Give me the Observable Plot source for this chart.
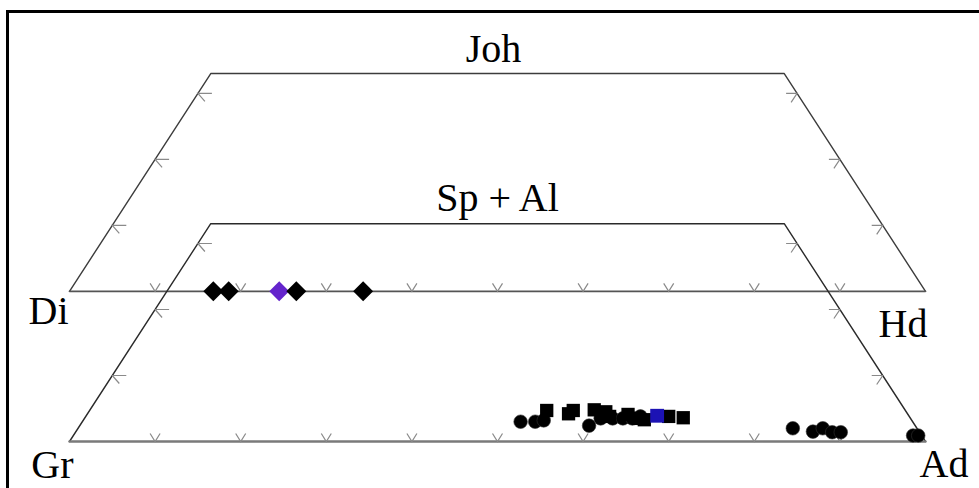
<!DOCTYPE html>
<html><head><meta charset="utf-8">
<script src="https://cdn.jsdelivr.net/npm/d3@7"></script>
<script src="https://cdn.jsdelivr.net/npm/@observablehq/plot@0.6"></script>
<style>
body{margin:0;background:#fff;}
#wrap{position:relative;width:979px;height:488px;overflow:hidden;background:#fff;}
#frame{position:absolute;left:6px;top:10px;width:2000px;height:2000px;border-left:3px solid #000;border-top:3px solid #000;pointer-events:none;}
#wrap svg{position:absolute;left:0;top:0;}
</style></head><body><div id="wrap"><div id="frame"></div></div>
<script>
// End-members of the two truncated ternary diagrams
const upperBase = ["Di", "Hd"];
const upperApex = "Joh";
const lowerBase = ["Gr", "Ad"];
const lowerApex = "Sp + Al";

// Tick fractions (%)
const baseTicks = [10, 20, 30, 40, 50, 60, 70, 80, 90];
const sideTicks = [10, 20, 30];
const apexMax = 33; // apex component shown up to this %

// Pyroxene (Di–Hd–Joh): Hd %, Joh %
const pyxHd   = [16.8, 18.6, 26.5, 34.3];
const pyxJoh  = [0, 0, 0, 0];
const pyxHlHd  = [24.5];
const pyxHlJoh = [0];

// Garnet (Gr–Ad–Sp+Al), circles: Ad %, Sp+Al %
const grtCircAd   = [51.2, 52.9, 53.8, 59.5, 60.3, 61.7, 62.9, 64.0, 64.8, 83.5, 86.1, 87.0, 88.4, 89.4, 98.1, 98.7];
const grtCircSpAl = [3.0, 3.0, 3.2, 2.4, 3.5, 3.5, 3.5, 3.5, 3.8, 2.0, 1.5, 2.0, 1.4, 1.4, 0.9, 0.9];
// Garnet squares: Ad %, Sp+Al %
const grtSqAd   = [53.4, 56.2, 56.5, 58.9, 60.4, 61.2, 63.2, 64.7, 65.5, 68.1, 69.9];
const grtSqSpAl = [4.7, 4.2, 4.7, 4.8, 4.5, 3.8, 4.1, 3.5, 3.3, 3.8, 3.6];
const grtSqHlAd   = [66.7];
const grtSqHlSpAl = [3.9];

// ---- layout helpers ----
const LEVEL_OFFSET = 0.2275; // upper diagram raised above the lower one (in apex units)
const proj = (b, c, level) => ({x: (b + c / 2) / 100, y: c / 100 + level * LEVEL_OFFSET});
const pts = (bs, cs, level) => bs.map((b, i) => proj(b, cs[i], level));

function outline(level) {
  return [proj(0, 0, level), proj(0, apexMax, level), proj(100 - apexMax, apexMax, level), proj(100, 0, level)];
}
function baseLine(level) { return [proj(0, 0, level), proj(100, 0, level)]; }
const topCenter = level => proj(50 - apexMax / 2, apexMax, level);
const baseTickPts = level => baseTicks.map(t => proj(t, 0, level));
const leftTickPts = level => sideTicks.map(t => proj(0, t, level));
const rightTickPts = level => sideTicks.map(t => proj(100 - t, t, level));

const symV = {draw(ctx) { ctx.moveTo(-5, -8); ctx.lineTo(0, 0); ctx.lineTo(5, -8); }};
const symL = {draw(ctx) { ctx.moveTo(14, 0); ctx.lineTo(0, 0); ctx.lineTo(7, 8); }};
const symR = {draw(ctx) { ctx.moveTo(-11, 0); ctx.lineTo(0, 0); ctx.lineTo(-6, 9); }};

const labelFont = {fontSize: 40, fill: "#000", lineAnchor: "middle"};
function label(pos, text, textAnchor, dx, dy) {
  return Plot.text([{...pos, text}], {x: "x", y: "y", text: "text", textAnchor, dx, dy, ...labelFont});
}

const tickStyle = {x: "x", y: "y", r: 5, fill: "none", stroke: "#8a8a8a", strokeWidth: 1.2};

const chart = Plot.plot({
  width: 979,
  height: 488,
  margin: 0,
  x: {domain: [0, 1], range: [69, 925], axis: null},
  y: {domain: [0, 1], range: [441, 441 - 660], axis: null},
  style: {background: "transparent", fontFamily: "'Liberation Serif', 'Times New Roman', serif"},
  marks: [
    // outlines
    Plot.line(outline(1), {x: "x", y: "y", stroke: "#3c3c3c", strokeWidth: 1.4}),
    Plot.line(baseLine(1), {x: "x", y: "y", stroke: "#555", strokeWidth: 1.6}),
    Plot.line(outline(0), {x: "x", y: "y", stroke: "#2a2a2a", strokeWidth: 1.4}),
    Plot.line(baseLine(0), {x: "x", y: "y", stroke: "#7a7a7a", strokeWidth: 2.4}),
    // ticks
    Plot.dot(baseTickPts(1), {...tickStyle, symbol: symV}),
    Plot.dot(leftTickPts(1), {...tickStyle, symbol: symL}),
    Plot.dot(rightTickPts(1), {...tickStyle, symbol: symR}),
    Plot.dot(baseTickPts(0), {...tickStyle, symbol: symV}),
    Plot.dot(leftTickPts(0), {...tickStyle, symbol: symL}),
    Plot.dot(rightTickPts(0), {...tickStyle, symbol: symR}),
    // data
    Plot.dot(pts(grtCircAd, grtCircSpAl, 0), {x: "x", y: "y", r: 6.8, fill: "#000", stroke: "#333", strokeWidth: 0.6}),
    Plot.dot(pts(grtSqAd, grtSqSpAl, 0), {x: "x", y: "y", symbol: "square", r: 7.5, fill: "#000"}),
    Plot.dot(pts(grtSqHlAd, grtSqHlSpAl, 0), {x: "x", y: "y", symbol: "square", r: 7.8, fill: "#1c12b4"}),
    Plot.dot(pts(pyxHlHd, pyxHlJoh, 1), {x: "x", y: "y", symbol: "diamond2", r: 9, fill: "#6424cc"}),
    Plot.dot(pts(pyxHd, pyxJoh, 1), {x: "x", y: "y", symbol: "diamond2", r: 9, fill: "#000"}),
    // labels
    label(proj(0, 0, 1), upperBase[0], "end", -1, 20),
    label(proj(100, 0, 1), upperBase[1], "end", 2, 33),
    label(topCenter(1), upperApex, "middle", -4, -24),
    label(proj(0, 0, 0), lowerBase[0], "end", 4, 24),
    label(proj(100, 0, 0), lowerBase[1], "start", -6, 23),
    label(topCenter(0), lowerApex, "middle", 0, -26)
  ]
});
document.getElementById("wrap").insertBefore(chart, document.getElementById("frame"));
</script>
</body></html>
